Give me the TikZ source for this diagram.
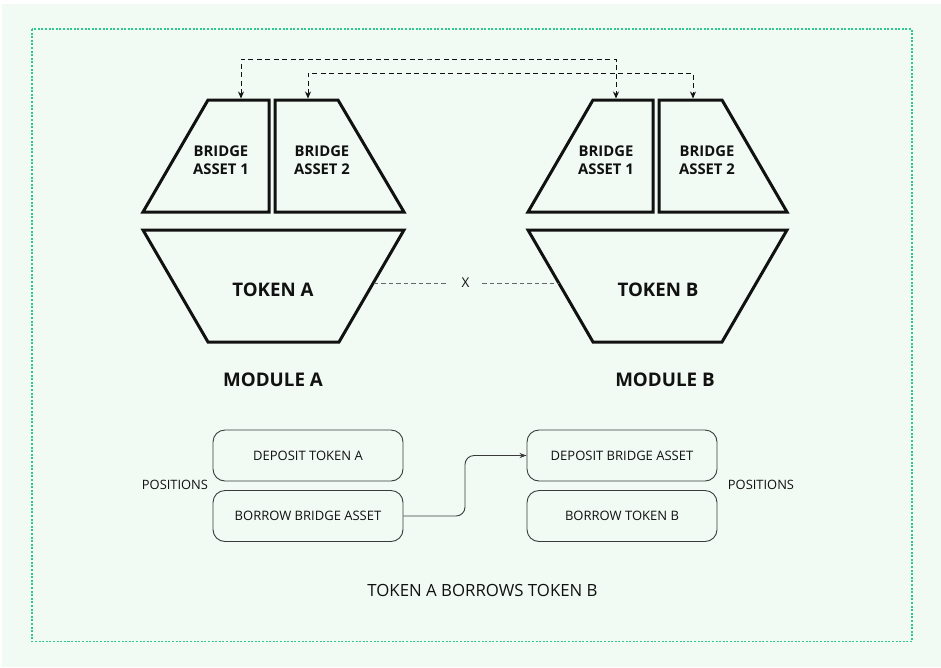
\documentclass[tikz,border=0pt]{standalone}
\usepackage{fontspec}
\setmainfont{Open Sans}
\usetikzlibrary{arrows.meta,calc}
\definecolor{bgg}{HTML}{F1FBF3}
\definecolor{frameg}{HTML}{2FC98C}
\definecolor{ink}{HTML}{111111}
\definecolor{boxline}{HTML}{3A3A3A}
\tikzset{
  trap/.style={draw=ink, line width=3pt, line join=miter},
  bigtxt/.style={font=\fontsize{14.8}{17.5}\selectfont\bfseries, text=ink, align=center},
  toktxt/.style={font=\fontsize{18.7}{21}\selectfont\bfseries, text=ink},
  modtxt/.style={font=\fontsize{18.8}{21}\selectfont\bfseries, text=ink},
  posbox/.style={draw=boxline, line width=0.9pt, rounded corners=12pt, minimum width=190pt, minimum height=51pt, inner sep=0pt, font=\fontsize{13}{15}\selectfont, text=ink},
  plain/.style={font=\fontsize{12.9}{15}\selectfont, text=ink},
  linkarrow/.style={draw=ink, line width=0.9pt, dash pattern=on 5pt off 3.5pt, {Stealth[length=7pt,width=6pt]}-{Stealth[length=7pt,width=6pt]}},
  xline/.style={draw=gray!80!black, line width=0.9pt, dash pattern=on 4.5pt off 3pt},
  flow/.style={draw=boxline, line width=0.9pt, rounded corners=9pt, -{Stealth[length=7pt,width=5pt]}}
}
\begin{document}
\begin{tikzpicture}[x=1pt,y=-1pt]
\useasboundingbox (0,0) rectangle (941,667);
\fill[white] (0,0) rectangle (941,667);
\fill[bgg] (2,4) rectangle (941,667);
\draw[frameg, line width=1.1pt, dash pattern=on 2pt off 1.6pt] (32,29) rectangle (912,641.5);

% Module A
\draw[trap] (208,100) -- (269,100) -- (269,212) -- (143,212) -- cycle;
\draw[trap] (275,100) -- (338,100) -- (404,212) -- (275,212) -- cycle;
\draw[trap] (143,230) -- (404,230) -- (339,342) -- (208,342) -- cycle;
\node[bigtxt] (ba1a) at (221,160) {BRIDGE\\ASSET 1};
\node[bigtxt] (ba2a) at (322,160) {BRIDGE\\ASSET 2};
\node[toktxt] (tka) at (273,290) {TOKEN A};
\node[modtxt] (moda) at (273,380) {MODULE A};

% Module B
\draw[trap] (593,100) -- (653,100) -- (653,212) -- (528,212) -- cycle;
\draw[trap] (659,100) -- (722,100) -- (787,212) -- (659,212) -- cycle;
\draw[trap] (528,230) -- (787,230) -- (722,342) -- (593,342) -- cycle;
\node[bigtxt] (ba1b) at (606,160) {BRIDGE\\ASSET 1};
\node[bigtxt] (ba2b) at (707,160) {BRIDGE\\ASSET 2};
\node[toktxt] (tkb) at (658,290) {TOKEN B};
\node[modtxt] (modb) at (665,380) {MODULE B};

% anchor points
\coordinate (a1top) at (241,98.5);
\coordinate (a2top) at (308,98.5);
\coordinate (b1top) at (616,98.5);
\coordinate (b2top) at (693,98.5);
\coordinate (tkaR) at (373.5,283);
\coordinate (tkbL) at (558.5,283);

\draw[linkarrow] (a1top) |- (428,59) -| (b1top);
\draw[linkarrow] (a2top) |- (500,73) -| (b2top);

\node[font=\fontsize{13.5}{15}\selectfont, text=ink, inner sep=1pt] (xx) at (465.5,283) {X};
\draw[xline] (tkaR) -- (447,283);
\draw[xline] (482,283) -- (tkbL);

% Positions
\node[posbox] (dta) at (308,455.5) {DEPOSIT TOKEN A};
\node[posbox] (bba) at (308,516) {BORROW BRIDGE ASSET};
\node[posbox] (dba) at (622,455.5) {DEPOSIT BRIDGE ASSET};
\node[posbox] (btb) at (622,516) {BORROW TOKEN B};
\node[plain] (posl) at (175,485) {POSITIONS};
\node[plain] (posr) at (761,485) {POSITIONS};

\draw[flow] (bba.east) -- (465,516) |- (dba.west);

\node[font=\fontsize{16.8}{19}\selectfont, text=ink] (cap) at (482.5,590) {TOKEN A BORROWS TOKEN B};
\end{tikzpicture}
\end{document}
